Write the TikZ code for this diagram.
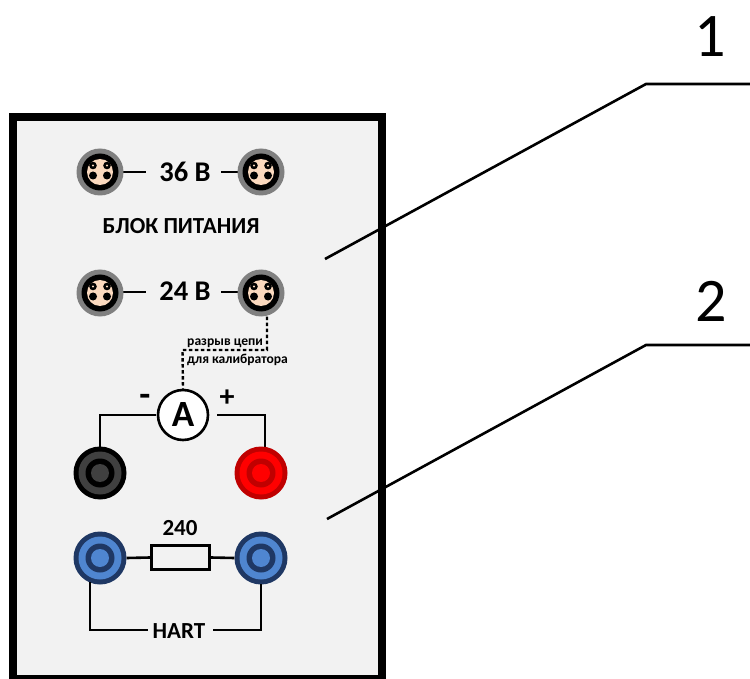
\documentclass[tikz,border=0pt]{standalone}
\usepackage{fontspec}
\setmainfont{Carlito}
\definecolor{panelbg}{HTML}{F2F2F2}
\definecolor{peach}{HTML}{FBD9BE}
\definecolor{ringgray}{HTML}{808080}
\definecolor{blackmid}{HTML}{404040}
\definecolor{redouter}{HTML}{C00000}
\definecolor{blueouter}{HTML}{1F3864}
\definecolor{bluemid}{HTML}{4F86D0}
\tikzset{
  wire/.style={draw=black,line width=2.6pt},
  dotwire/.style={draw=black,line width=2.4pt,dash pattern=on 3.4pt off 2.6pt},
  lbl/.style={inner sep=0pt,text=black},
  disc/.style={circle,inner sep=0pt,minimum size=#1},
}
\newcommand{\fourpin}[2]{%
  \node[disc=47pt,fill=ringgray] (#1) at (#2) {};
  \node[disc=37pt,fill=black] at (#2) {};
  \node[disc=26pt,fill=peach] at (#2) {};
  \fill[black] ([shift={(-7,-6.5)}]#2) circle (3.8);
  \fill[black] ([shift={(7,-6.5)}]#2) circle (3.8);
  \fill[black] ([shift={(-7,3.5)}]#2) circle (4);
  \fill[black] ([shift={(7,3.5)}]#2) circle (4);
  \fill[peach] ([shift={(-7,-6.5)}]#2) circle (1.2);
  \fill[peach] ([shift={(7,-6.5)}]#2) circle (1.2);
}
\newcommand{\jack}[4]{%
  \node[disc=53pt,fill=#3] (#1) at (#2) {};
  \node[disc=43pt,fill=#4] at (#2) {};
  \node[disc=29pt,fill=#3] at (#2) {};
  \node[disc=18pt,fill=#4] at (#2) {};
}
\begin{document}
\begin{tikzpicture}[x=1pt,y=-1pt]
\useasboundingbox (0,0) rectangle (750,679);
\fill[white] (0,0) rectangle (750,679);
\path[fill=panelbg,draw=black,line width=8pt] (12.5,117) rectangle (382,679);

% callouts
\coordinate (a1) at (325,259); \coordinate (a2) at (646,84); \coordinate (a3) at (750,84);
\coordinate (b1) at (327,519); \coordinate (b2) at (646,345); \coordinate (b3) at (750,345);
\draw[wire] (a1) -- (a2) -- (a3);
\draw[wire] (b1) -- (b2) -- (b3);
\node[font=\fontsize{62}{62}\selectfont,inner sep=0pt] (n1) at (710,37) {1};
\node[font=\fontsize{62}{62}\selectfont,inner sep=0pt] (n2) at (711,301) {2};

% socket wires
\node[lbl,font=\bfseries\fontsize{28.5}{28.5}\selectfont] (v36) at (185,172) {36 В};
\node[lbl,font=\bfseries\fontsize{28.5}{28.5}\selectfont] (v24) at (185,291) {24 В};
\coordinate (w1) at (146,172); \coordinate (w2) at (221,172);
\coordinate (w3) at (146,292); \coordinate (w4) at (221,292);
\coordinate (p36l) at (100,172); \coordinate (p36r) at (261,172);
\coordinate (p24l) at (100,292); \coordinate (p24r) at (261,292);
\draw[wire] (p36l) -- (w1); \draw[wire] (w2) -- (p36r);
\draw[wire] (p24l) -- (w3); \draw[wire] (w4) -- (p24r);

\fourpin{s1}{100,172}
\fourpin{s2}{261,172}
\fourpin{s3}{100,293}
\fourpin{s4}{261,293}

\node[lbl,font=\bfseries\fontsize{23}{23}\selectfont] (title) at (181,226) {БЛОК ПИТАНИЯ};

% ammeter
\node[circle,draw=black,line width=2.6pt,fill=white,minimum size=50pt,inner sep=0pt,font=\bfseries\fontsize{37}{37}\selectfont] (amm) at (183,415) {A};
\node[lbl,font=\bfseries\fontsize{13.6}{13.6}\selectfont,anchor=west] (t1) at (187,343.5) {разрыв цепи};
\node[lbl,font=\bfseries\fontsize{13.6}{13.6}\selectfont,anchor=west] (t2) at (187,359.5) {для калибратора};
\coordinate (d1) at (267,350); \coordinate (d2) at (182.5,350);
\draw[dotwire] (s4.south -| d1) -- (d1) -- (d2) -- (amm.north);
\node[lbl,font=\bfseries\fontsize{36}{36}\selectfont] (minus) at (145,400) {-};
\node[lbl,font=\bfseries\fontsize{30}{30}\selectfont] (plus) at (227,398) {+};

\coordinate (c1) at (100,415); \coordinate (c2) at (265,415); \coordinate (c3) at (217,415);
\draw[wire] (100,447) -- (c1) -- (156,415);
\draw[wire] (c3) -- (c2) -- (265,447);
\jack{jblack}{100,473}{black}{blackmid}
\jack{jred}{261,473}{redouter}{red}

% resistor, HART
\jack{jb1}{100,558}{blueouter}{bluemid}
\jack{jb2}{261,558}{blueouter}{bluemid}
\node[draw=black,line width=2.6pt,fill=panelbg,minimum width=58pt,minimum height=24pt,inner sep=0pt] (res) at (180.5,557.5) {};
\draw[wire] (jb1.east) -- (res.west);
\draw[wire] (res.east) -- (jb2.west);
\node[lbl,font=\bfseries\fontsize{23}{23}\selectfont] (r240) at (180,528) {240};
\node[lbl,font=\bfseries\fontsize{23}{23}\selectfont] (hart) at (179,631) {HART};
\coordinate (h1) at (90,630); \coordinate (h2) at (261,630);
\coordinate (h1t) at (90,582); \coordinate (h2t) at (261,584);
\draw[wire] (h1t) -- (h1) -- (148,630);
\draw[wire] (h2t) -- (h2) -- (213,630);
\end{tikzpicture}
\end{document}
